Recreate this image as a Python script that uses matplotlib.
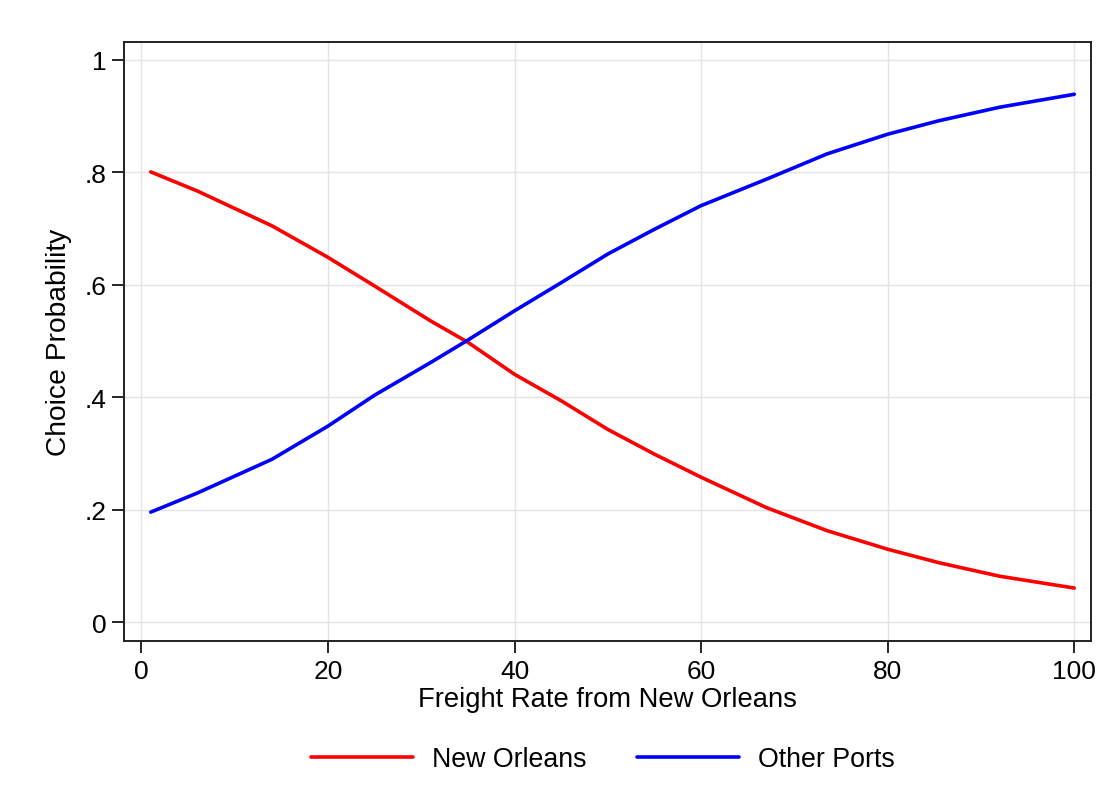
import matplotlib
matplotlib.use("Agg")
from matplotlib import pyplot as plt

# values
freight_rate = [1, 6, 14, 20, 25, 31, 35, 40, 45, 50, 55, 60, 67, 73.5, 80, 85.5, 92, 100]
p_new_orleans = [0.801, 0.767, 0.705, 0.649, 0.598, 0.536, 0.498, 0.441, 0.394, 0.343,
                 0.299, 0.258, 0.204, 0.163, 0.130, 0.106, 0.082, 0.061]
p_other_ports = [0.196, 0.230, 0.290, 0.349, 0.404, 0.462, 0.502, 0.554, 0.604, 0.655,
                 0.699, 0.741, 0.788, 0.833, 0.868, 0.892, 0.916, 0.939]

x_ticks = [0, 20, 40, 60, 80, 100]
y_ticks = [0, 0.2, 0.4, 0.6, 0.8, 1]
y_tick_labels = ["0", ".2", ".4", ".6", ".8", "1"]

plt.rcParams['font.family'] = ['Liberation Sans', 'DejaVu Sans']

fig = plt.figure(figsize=(11.08, 8.12), dpi=100)
ax = fig.add_axes([0.1119, 0.2097, 0.8728, 0.7377])

ax.plot(freight_rate, p_new_orleans, color='#ff0000', lw=2.6, label='New Orleans',
        solid_capstyle='round')
ax.plot(freight_rate, p_other_ports, color='#0000ff', lw=2.6, label='Other Ports',
        solid_capstyle='round')

ax.set_xlim(-1.87, 101.8)
ax.set_ylim(-0.0327, 1.0325)
ax.set_xticks(x_ticks)
ax.set_yticks(y_ticks)
ax.set_yticklabels(y_tick_labels)
ax.grid(True, color='#e3e3e3', lw=1.0)
ax.set_axisbelow(True)

for s in ax.spines.values():
    s.set_linewidth(1.4)
    s.set_color('#222222')
ax.tick_params(axis='both', direction='out', length=8.5, width=1.2, labelsize=19)
ax.tick_params(axis='x', pad=5)
ax.tick_params(axis='y', pad=4)

ax.set_xlabel("Freight Rate from New Orleans", fontsize=19.7, labelpad=2)
ax.set_ylabel("Choice Probability", fontsize=20.3, labelpad=9)

fig.legend(loc='center', bbox_to_anchor=(0.544, 0.064), ncol=2, frameon=False,
           fontsize=19.3, handlelength=3.8, handletextpad=0.7, columnspacing=1.9)

fig.savefig("out.png", dpi=100, facecolor='white')
